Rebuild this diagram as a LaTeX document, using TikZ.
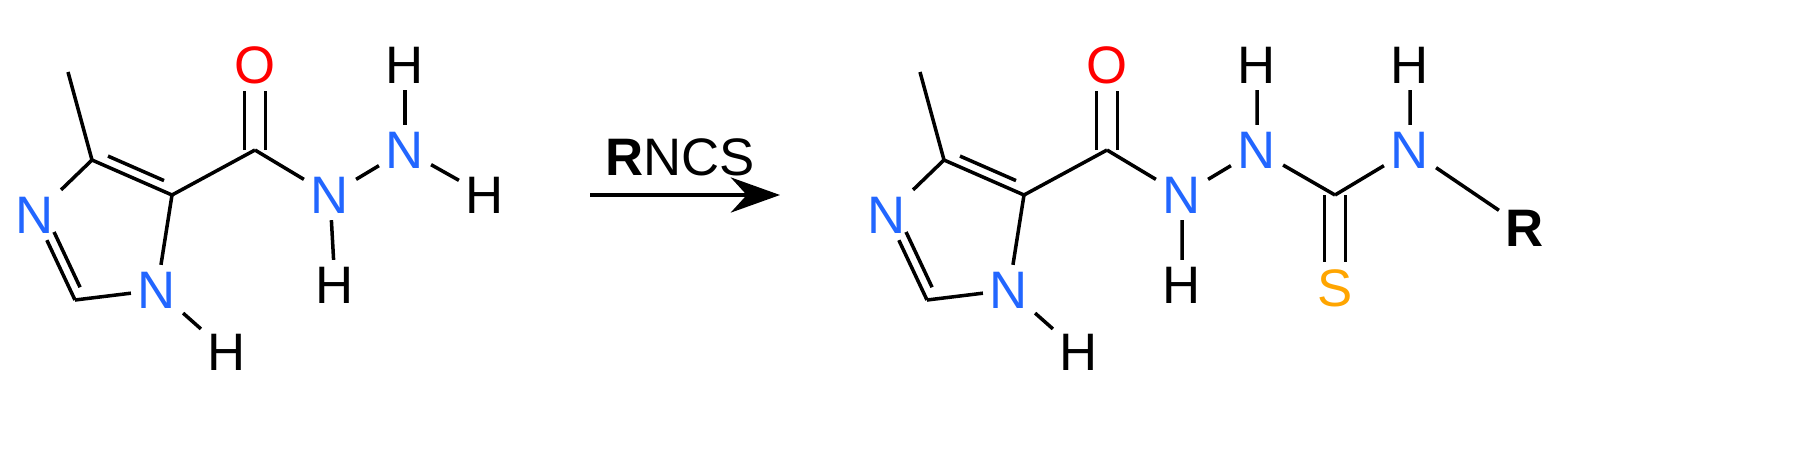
\documentclass[tikz,border=0pt]{standalone}
\usepackage{fontspec}
\setmainfont{Liberation Sans}
\usetikzlibrary{calc,arrows.meta}
\definecolor{nblue}{HTML}{2266FF}
\definecolor{sor}{HTML}{FFA500}
\begin{document}
\begin{tikzpicture}[x=0.01cm,y=-0.01cm,line width=1pt,
 atm/.style={inner sep=1.5pt,font=\fontsize{15}{17}\selectfont},
 nat/.style={atm,text=nblue}]
\useasboundingbox (0,0) rectangle (1811,457);
% ---- left molecule
\coordinate (aMe) at (68,72);
\coordinate (aC4) at (92,160);
\node[nat] (aN3) at (35,215) {N};
\coordinate (aC2) at (75,300);
\node[nat] (aN1) at (157,290) {N};
\node[atm] (aH1) at (227,352) {H};
\coordinate (aC5) at (172,195);
\coordinate (aCO) at (255,150);
\node[atm,text=red] (aO) at (255,65) {O};
\node[nat] (aNa) at (330,195) {N};
\node[atm] (aHa) at (335,285) {H};
\node[nat] (aNb) at (405,150) {N};
\node[atm] (aHb) at (405,65) {H};
\node[atm] (aHc) at (485,195) {H};
\draw (aMe)--(aC4) (aC4)--(aC5) (aC4)--(aN3) (aN3)--(aC2) (aC2)--(aN1) (aN1)--(aC5) (aN1)--(aH1)
 (aC5)--(aCO) (aCO)--(aNa) (aNa)--(aHa) (aNa)--(aNb) (aNb)--(aHb) (aNb)--(aHc);
\draw ($(aC4)!0.15!(aC5)!0.1cm!90:(aC5)$) -- ($(aC5)!0.15!(aC4)!0.1cm!-90:(aC4)$);
\draw ($(aN3)!0.25!(aC2)!0.1cm!90:(aC2)$) -- ($(aC2)!0.1!(aN3)!0.1cm!-90:(aN3)$);
\draw ([xshift=-3pt]aCO) -- ([xshift=-3pt]aO.south);
\draw ([xshift=3pt]aCO) -- ([xshift=3pt]aO.south);
% ---- arrow
\coordinate (ar1) at (590,195);
\coordinate (ar2) at (780,195);
\draw[-{Stealth[length=14pt,width=10pt]}] (ar1) -- (ar2);
\node[atm] (rncs) at (680,157) {\textbf{R}NCS};
% ---- right molecule
\coordinate (bMe) at (920,72);
\coordinate (bC4) at (944,160);
\node[nat] (bN3) at (887,215) {N};
\coordinate (bC2) at (927,300);
\node[nat] (bN1) at (1009,290) {N};
\node[atm] (bH1) at (1079,352) {H};
\coordinate (bC5) at (1024,195);
\coordinate (bCO) at (1107,150);
\node[atm,text=red] (bO) at (1107,65) {O};
\node[nat] (bNa) at (1182,195) {N};
\node[atm] (bHa) at (1182,285) {H};
\node[nat] (bNb) at (1257,150) {N};
\node[atm] (bHb) at (1257,65) {H};
\coordinate (bCS) at (1335,195);
\node[atm,text=sor] (bS) at (1335,288) {S};
\node[nat] (bNc) at (1410,150) {N};
\node[atm] (bHc) at (1410,65) {H};
\node[atm] (bR) at (1525,228) {\textbf{R}};
\draw (bMe)--(bC4) (bC4)--(bC5) (bC4)--(bN3) (bN3)--(bC2) (bC2)--(bN1) (bN1)--(bC5) (bN1)--(bH1)
 (bC5)--(bCO) (bCO)--(bNa) (bNa)--(bHa) (bNa)--(bNb) (bNb)--(bHb) (bNb)--(bCS) (bCS)--(bNc)
 (bNc)--(bHc) (bNc)--(bR);
\draw ($(bC4)!0.15!(bC5)!0.1cm!90:(bC5)$) -- ($(bC5)!0.15!(bC4)!0.1cm!-90:(bC4)$);
\draw ($(bN3)!0.25!(bC2)!0.1cm!90:(bC2)$) -- ($(bC2)!0.1!(bN3)!0.1cm!-90:(bN3)$);
\draw ([xshift=-3pt]bCO) -- ([xshift=-3pt]bO.south);
\draw ([xshift=3pt]bCO) -- ([xshift=3pt]bO.south);
\draw ([xshift=-3pt]bCS) -- ([xshift=-3pt]bS.north);
\draw ([xshift=3pt]bCS) -- ([xshift=3pt]bS.north);
\end{tikzpicture}
\end{document}
